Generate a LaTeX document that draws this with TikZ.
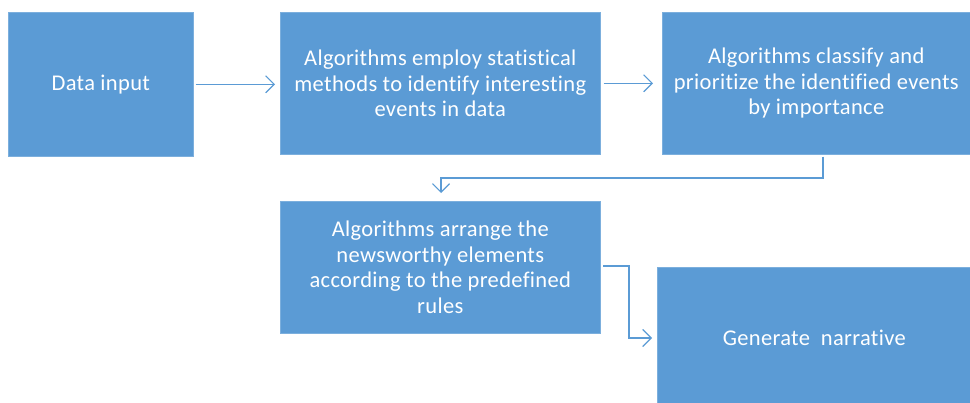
\documentclass[tikz,border=0pt]{standalone}
\usepackage{fontspec}
\setmainfont{Carlito}[Ligatures=NoCommon, LetterSpace=1.5]
\usetikzlibrary{arrows.meta}
\definecolor{boxblue}{HTML}{5B9BD5}
\definecolor{linkblue}{HTML}{5B9BD5}
\tikzset{
  x=1pt, y=1pt,
  flowbox/.style={fill=boxblue, draw=boxblue!80!white, line width=0.6pt, text=white, align=center,
    font=\fontsize{22.5}{25.5}\selectfont, inner sep=0pt, anchor=north west},
  link/.style={draw=linkblue, line width=1.2pt, -{Straight Barb[length=8.5pt, width=17pt, line width=1.2pt]}}
}
\begin{document}
\begin{tikzpicture}
\clip (0,0) rectangle (970,-402);
\node[flowbox, minimum width=185, minimum height=144] (b1) at (8,-12) {Data input};
\node[flowbox, minimum width=320, minimum height=142] (b2) at (280,-12) {Algorithms employ statistical\\methods to identify interesting\\events in data};
\node[flowbox, minimum width=308, minimum height=142] (b3) at (662,-12) {Algorithms classify and\\prioritize the identified events\\by importance};
\node[flowbox, minimum width=320, minimum height=132] (b4) at (280,-201) {Algorithms arrange the\\newsworthy elements\\according to the predefined\\rules};
\node[flowbox, minimum width=314, minimum height=142] (b5) at (657,-267) {Generate\ \ narrative};
\coordinate (t4) at (441,-193);
\coordinate (t5) at (652,-338);
\draw[link] ([xshift=2pt]b1.east) -- ([xshift=-5pt]b2.west |- b1.east);
\draw[link] ([xshift=3pt]b2.east) -- ([xshift=-9pt]b3.west |- b2.east);
\draw[link] ([yshift=-2pt]b3.south -| 823,0) |- (441,-178) -- (t4);
\draw[link] (603,-266) -| (629,-338) -- (t5);
\end{tikzpicture}
\end{document}
